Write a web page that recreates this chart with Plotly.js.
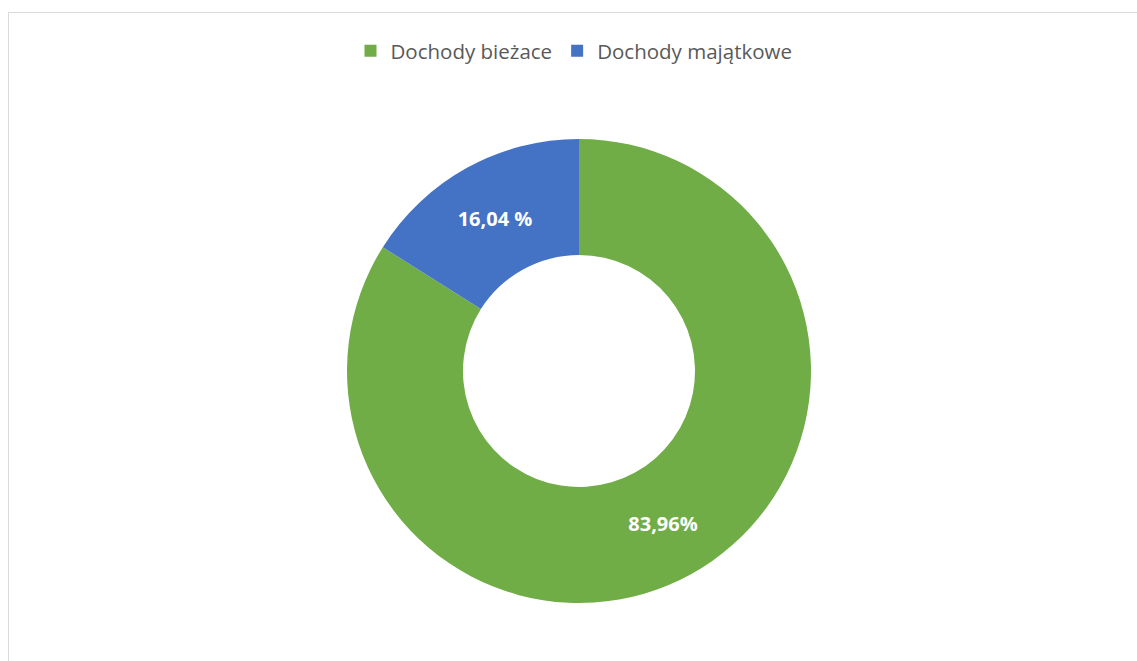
<!DOCTYPE html>
<html>
<head>
<meta charset="utf-8">
<script src="https://cdn.plot.ly/plotly-3.0.1.min.js"></script>
<style>
  html, body { margin: 0; padding: 0; background: #ffffff; }
  #chart { position: absolute; left: 0; top: 0; width: 1137px; height: 661px; }
  #frame { position: absolute; left: 8px; top: 12px; width: 1140px; height: 660px;
           border: 1px solid #d9d9d9; box-sizing: border-box; pointer-events: none; }
</style>
</head>
<body>
<div id="chart"></div>
<div id="frame"></div>
<script>
const categories = ["Dochody bieżace", "Dochody majątkowe"];
const values = [83.96, 16.04];
const valueLabels = ["83,96%", "16,04 %"];
const colors = ["#70AD47", "#4472C4"];

const W = 1137, H = 661;
const cx = 579, cy = 371, R = 232;

const trace = {
  type: "pie",
  labels: categories,
  values: values,
  text: valueLabels,
  texttemplate: "%{text}",
  textinfo: "text",
  textposition: "inside",
  insidetextorientation: "horizontal",
  hole: 0.5,
  sort: false,
  direction: "clockwise",
  rotation: 0,
  marker: { colors: colors, line: { color: "#ffffff", width: 0 } },
  textfont: { family: "Open Sans, sans-serif", size: 20, color: "#ffffff", weight: "bold" },
  domain: {
    x: [(cx - R) / W, (cx + R) / W],
    y: [1 - (cy + R) / H, 1 - (cy - R) / H]
  },
  hoverinfo: "label+percent"
};

const layout = {
  width: W,
  height: H,
  margin: { l: 0, r: 0, t: 0, b: 0 },
  paper_bgcolor: "#ffffff",
  showlegend: true,
  legend: {
    orientation: "h",
    x: 574 / W, xanchor: "center",
    y: 1 - 51 / H, yanchor: "middle",
    font: { family: "Open Sans, sans-serif", size: 20.5, color: "#595959" },
    itemsizing: "constant",
    traceorder: "normal"
  }
};

Plotly.newPlot("chart", [trace], layout, { displayModeBar: false, staticPlot: true });
</script>
</body>
</html>
